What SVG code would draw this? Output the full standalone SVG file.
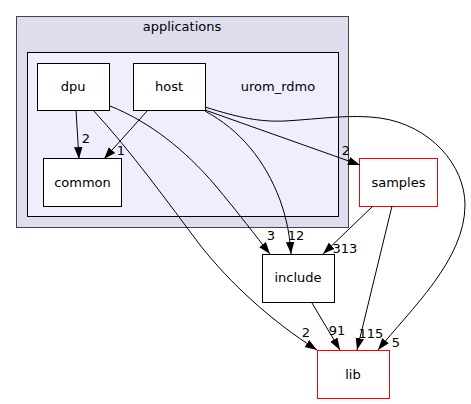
<svg xmlns="http://www.w3.org/2000/svg" width="471" height="404" viewBox="0 0 471 404">
<style>
text{font-family:"DejaVu Sans","Liberation Sans",sans-serif;font-size:13px;fill:#000}
.n{fill:#fff;stroke:#000;stroke-width:1}
.r{fill:#fff;stroke:#ff0000;stroke-width:1}
.e{fill:none;stroke:#000;stroke-width:1;marker-end:url(#ah)}
.m{text-anchor:middle}
</style>
<defs>
<marker id="ah" markerUnits="userSpaceOnUse" markerWidth="12" markerHeight="10" refX="10" refY="3.5" orient="auto" viewBox="0 0 10 7">
<path d="M0,0 L10,3.5 L0,7 Z" fill="#000"/>
</marker>
</defs>
<g id="cluster_applications">
<rect x="16.5" y="16.5" width="332" height="211" fill="#ddddee" stroke="#444" stroke-width="1"/>
<text class="m" x="182" y="30.5">applications</text>
</g>
<g id="cluster_urom_rdmo">
<rect x="27.5" y="52.5" width="311" height="164" fill="#eeeeff" stroke="#000" stroke-width="1"/>
<text class="m" x="278" y="90.5">urom_rdmo</text>
</g>
<g id="node_dpu">
<rect class="n" x="37.5" y="63.5" width="72" height="47"/>
<text class="m" x="73" y="90.5">dpu</text>
</g>
<g id="node_host">
<rect class="n" x="133.5" y="63.5" width="72" height="47"/>
<text class="m" x="169" y="90.5">host</text>
</g>
<g id="node_common">
<rect class="n" x="43.5" y="158.5" width="78" height="48"/>
<text class="m" x="82.5" y="186.5">common</text>
</g>
<g id="node_samples">
<rect class="r" x="359.5" y="158.5" width="78" height="48"/>
<text class="m" x="398.5" y="186.5">samples</text>
</g>
<g id="node_include">
<rect class="n" x="262.5" y="254.5" width="72" height="48"/>
<text class="m" x="298" y="281.5">include</text>
</g>
<g id="node_lib">
<rect class="r" x="317.5" y="350.5" width="72" height="48"/>
<text class="m" x="353" y="378.5">lib</text>
</g>
<g id="edges">
<path class="e" d="M76,110 L79,159"/>
<text class="m" x="86" y="143">2</text>
<path class="e" d="M148,110 L104,159"/>
<text class="m" x="121" y="155">1</text>
<path class="e" d="M110,106 C150,122 185,150 215,185 C240,215 255,235 270,254"/>
<text class="m" x="271" y="240">3</text>
<path class="e" d="M93,110 C130,150 170,205 200,245 C230,283 270,320 317,350"/>
<text class="m" x="306" y="337">2</text>
<path class="e" d="M205,111 C240,130 265,160 280,200 C288,222 290,240 291,254"/>
<text class="m" x="296" y="240">12</text>
<path class="e" d="M205,110 L360,165"/>
<text class="m" x="346" y="155">2</text>
<path class="e" d="M205,107 C240,118 260,122 285,121 C320,119 350,114 380,118 C430,125 465,165 465,205 C465,260 410,310 378,350"/>
<text class="m" x="396" y="347">5</text>
<path class="e" d="M373,206 L323,254"/>
<text class="m" x="345" y="253">313</text>
<path class="e" d="M392,206 L357,350"/>
<text class="m" x="371" y="338">115</text>
<path class="e" d="M312,303 L340,350"/>
<text class="m" x="337" y="335">91</text>
</g>
</svg>
